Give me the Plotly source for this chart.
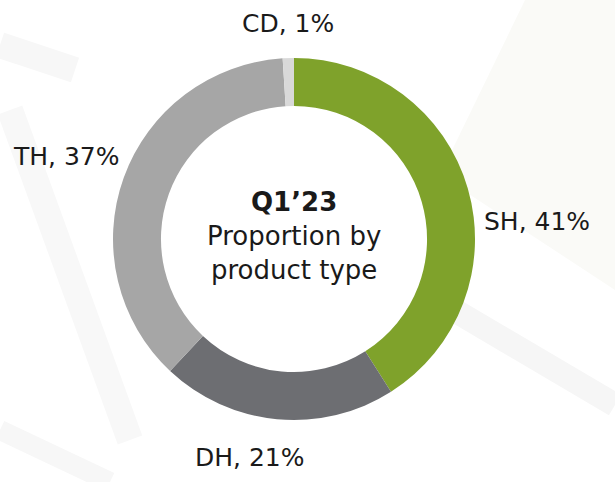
import plotly.graph_objects as go

# ---- data ----
labels = ["SH", "DH", "TH", "CD"]
values = [41, 21, 37, 1]
colors = ["#7FA22B", "#6D6E72", "#A6A6A6", "#D9D9D9"]
center_title = "Q1’23"
center_sub = ["Proportion by", "product type"]

W, H = 615, 482
cx, cy, R = 294, 239, 181

# outside label centres (pixels from top-left)
label_px = {"SH": (537, 222), "DH": (250, 457), "TH": (66, 157), "CD": (288, 23)}
font_family = "'DejaVu Sans', sans-serif"


def px(x, y):
    return x / W, 1 - y / H


fig = go.Figure()
fig.add_trace(go.Pie(
    labels=labels, values=values, sort=False, direction="clockwise", rotation=0,
    hole=0.735, marker=dict(colors=colors, line=dict(width=0)),
    textinfo="none", hoverinfo="label+percent", showlegend=False,
    domain=dict(x=[(cx - R) / W, (cx + R) / W], y=[(H - cy - R) / H, (H - cy + R) / H]),
))

annotations = []
for lab, val in zip(labels, values):
    x, y = px(*label_px[lab])
    annotations.append(dict(x=x, y=y, xref="paper", yref="paper", text=f"{lab}, {val}%",
                            showarrow=False, font=dict(size=25, color="#1a1a1a", family=font_family),
                            xanchor="center", yanchor="middle"))
x, y = px(cx, 236)
annotations.append(dict(x=x, y=y, xref="paper", yref="paper",
                        text=f"<b>{center_title}</b><br>" + "<br>".join(center_sub),
                        showarrow=False, font=dict(size=26, color="#1a1a1a", family=font_family),
                        xanchor="center", yanchor="middle", align="center"))


def poly(points, color):
    p = " L ".join(f"{px(a, b)[0]:.4f} {px(a, b)[1]:.4f}" for a, b in points)
    return dict(type="path", xref="paper", yref="paper", layer="below",
                path=f"M {p} Z", fillcolor=color, line=dict(width=0))


def band(p0, p1, color, width):
    x0, y0 = px(*p0)
    x1, y1 = px(*p1)
    return dict(type="line", xref="paper", yref="paper", layer="below", x0=x0, y0=y0, x1=x1, y1=y1,
                line=dict(color=color, width=width))


# faint watermark decoration
shapes = [
    poly([(525, 0), (440, 175), (615, 290), (615, 0)], "#FAFAF7"),
    band((0, 45), (75, 70), "#F7F7F7", 26),
    band((10, 110), (130, 440), "#F8F8F8", 26),
    band((420, 290), (615, 405), "#F6F6F6", 24),
    band((0, 430), (110, 482), "#F7F7F7", 20),
]

fig.update_layout(
    width=W, height=H, margin=dict(l=0, r=0, t=0, b=0),
    paper_bgcolor="white", plot_bgcolor="white",
    annotations=annotations, shapes=shapes,
)
fig.write_html("out.html", config={"displayModeBar": False},
               post_script="document.body.style.margin='0';")
